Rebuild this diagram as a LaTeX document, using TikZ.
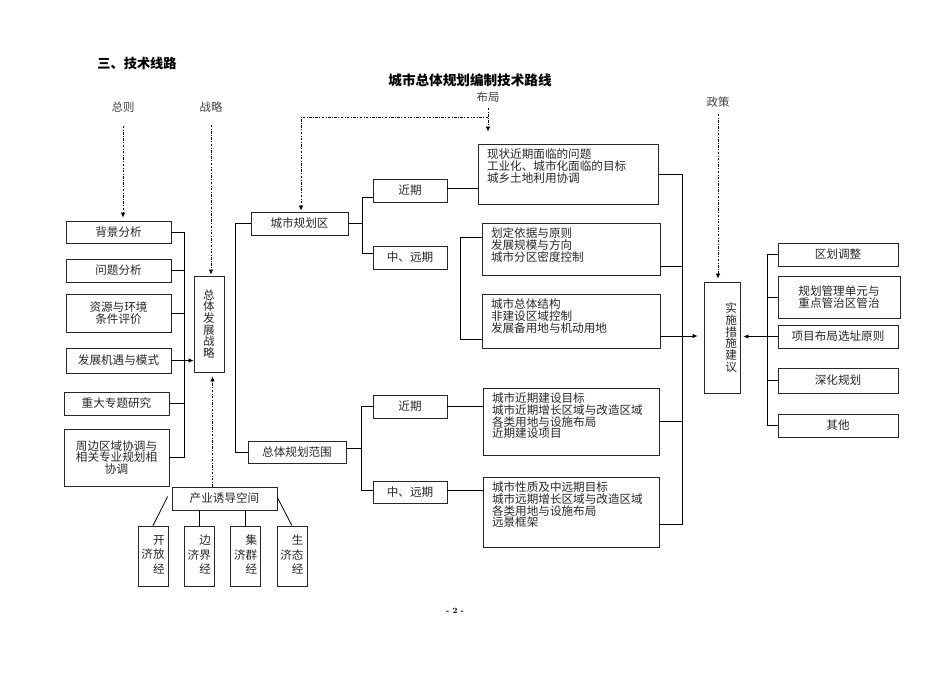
\documentclass[tikz,border=0pt]{standalone}
\usepackage{fontspec}
\usepackage{tikz}
\usetikzlibrary{positioning, arrows.meta}
\newfontfamily\cjk{Noto Sans CJK SC}
\newcommand{\txt}[3]{\parbox[c][#1][t]{#2}{\raggedright #3}}

\begin{document}
\begin{tikzpicture} [x=1pt, y=-1pt, on grid, >={Latex[length=5pt,width=4.5pt]},
  box/.style={draw=black!85, line width=0.8pt, rectangle, inner sep=2pt, align=center,
    font=\cjk\fontsize{11.6}{11.7}\selectfont, text=black!85},
  tbox/.style={draw=black!85, line width=0.8pt, rectangle, inner xsep=9pt, inner ysep=5pt,
    font=\cjk\fontsize{11.6}{11.7}\selectfont, text=black!85},
  vbox/.style={box, minimum width=30pt, minimum height=60pt, inner sep=0pt},
  lbl/.style={font=\cjk\fontsize{11.4}{12}\selectfont, text=black!75},
  dd/.style={line width=0.7pt, dash pattern=on 2.5pt off 1.5pt on 0.8pt off 1.5pt},
  ln/.style={line width=0.8pt}]

        \useasboundingbox (0,0) rectangle (950,672);

        % titles
        \node (bt) [font=\cjk\bfseries\fontsize{13.2}{15}\selectfont] at (137,63) {三、技术线路};
        \node (zbt) [font=\cjk\bfseries\fontsize{13.6}{15}\selectfont] at (470,80) {城市总体规划编制技术路线};
        \node (ym) [font=\bfseries\fontsize{8}{10}\selectfont] at (455,611) {- 2 -};

        \node (zongze) [lbl] at (123,107) {总则}; \node (zhanlue) [lbl] at (211,107) {战略};
        \node (buju) [lbl] at (488,97) {布局}; \node (zhengce) [lbl] at (718,102) {政策};

        % left column
        \node (bjfx) [box, minimum width=105pt, minimum height=22pt] at (118.5,232) {背景分析};
        \node (wtfx) [box, minimum width=105pt, minimum height=23pt] at (118.5,270.5) {问题分析};
        \node (zyhj) [box, minimum width=105pt, minimum height=38pt] at (118.5,313) {资源与环境\\条件评价};
        \node (fzjy) [box, minimum width=105pt, minimum height=25pt] at (118.5,360.5) {发展机遇与模式};
        \node (zdzt) [box, minimum width=105pt, minimum height=23pt] at (116.5,403.5) {重大专题研究};
        \node (zbqy) [box, minimum width=105pt, minimum height=57pt] at (116.5,457.5)
         {周边区域协调与\\相关专业规划相\\协调};
        \node (ztfz) [box, minimum width=30pt, minimum height=96pt] at (209,324) {总\\体\\发\\展\\战\\略};
        \node (cyyd) [box, minimum width=105pt, minimum height=23pt] at (224.5,498.5) {产业诱导空间};

        \node (kfjj) [vbox] at (153,556) {\begin{tabular}{@{}c@{}c@{}}&开\\[1.3pt]济&放\\[1.3pt]&经\end{tabular}};
        \node (bjjj) [vbox, right=46.3pt of kfjj] {\begin{tabular}{@{}c@{}c@{}}&边\\[1.3pt]济&界\\[1.3pt]&经\end{tabular}};
        \node (jqjj) [vbox, right=46.3pt of bjjj] {\begin{tabular}{@{}c@{}c@{}}&集\\[1.3pt]济&群\\[1.3pt]&经\end{tabular}};
        \node (stjj) [vbox, right=46.3pt of jqjj] {\begin{tabular}{@{}c@{}c@{}}&生\\[1.3pt]济&态\\[1.3pt]&经\end{tabular}};

        % middle
        \node (csgh) [box, minimum width=97pt, minimum height=23pt] at (299.5,223.5) {城市规划区};
        \node (ztgh) [box, minimum width=98pt, minimum height=22pt] at (297,452) {总体规划范围};
        \node (jq1) [box, minimum width=74pt, minimum height=23pt] at (410,190.5) {近期};
        \node (yq1) [box, minimum width=74pt, minimum height=23pt] at (410,257.5) {中、远期};
        \node (jq2) [box, minimum width=74pt, minimum height=23pt] at (410,406.5) {近期};
        \node (yq2) [box, minimum width=74pt, minimum height=22pt] at (410,492) {中、远期};

        \node (xzwt) [tbox] at (568,174) {\txt{50pt}{162pt}{现状近期面临的问题\\工业化、城市化面临的目标\\城乡土地利用协调}};
        \node (hdyj) [tbox] at (571,249) {\txt{42pt}{160pt}{划定依据与原则\\发展规模与方向\\城市分区密度控制}};
        \node (csjg) [tbox] at (571,321) {\txt{44pt}{160pt}{城市总体结构\\非建设区域控制\\发展备用地与机动用地}};
        \node (jqjs) [tbox] at (571,421.5) {\txt{57pt}{158pt}{城市近期建设目标\\城市近期增长区域与改造区域\\各类用地与设施布局\\近期建设项目}};
        \node (xzmb) [tbox] at (571,512) {\txt{60pt}{158pt}{城市性质及中远期目标\\城市远期增长区域与改造区域\\各类用地与设施布局\\远景框架}};

        % right
        \node (ssjy) [box, text width=30pt, align=right, inner xsep=3pt, minimum height=111pt] at (722,337.5)
         {实\\施\\措\\施\\建\\议};
        \node (qhtz) [box, minimum width=120pt, minimum height=23pt] at (838,254.5) {区划调整};
        \node (glzd) [box, minimum width=122pt, minimum height=42pt] at (839,297) {规划管理单元与\\重点管治区管治};
        \node (xmbj) [box, minimum width=120pt, minimum height=23pt] at (838,336.5) {项目布局选址原则};
        \node (shgh) [box, minimum width=120pt, minimum height=25pt] at (838,380.5) {深化规划};
        \node (qt) [box, minimum width=120pt, minimum height=23pt] at (838,425.5) {其他};

        \coordinate (lb) at (184,0); \coordinate (mb) at (362,0); \coordinate (mb2) at (361,0);
        \coordinate (rb) at (682,0); \coordinate (rb2) at (767,0); \coordinate (bz) at (301,117);

        % dashed inputs
        \draw[dd,->,shorten <=10pt,shorten >=3pt] (zongze.south) -- (zongze.south |- bjfx.north);
        \draw[dd,->,shorten <=9pt,shorten >=1pt] (zhanlue.south) -- (zhanlue.south |- ztfz.north);
        \draw[dd,->,shorten <=2pt] (buju.south) -- ([yshift=12pt]buju.south |- xzwt.north);
        \draw[dd,->] (buju.south |- bz) -- (bz) -- ([yshift=1pt]bz |- csgh.north);
        \draw[dd,->,shorten <=3pt,shorten >=3pt] (zhengce.south) -- (zhengce.south |- ssjy.north);
        \draw[dd,->,shorten >=4pt] ([xshift=-12pt]cyyd.north) -- ([xshift=-12pt]cyyd.north |- ztfz.south);

        % left bracket
        \draw[ln] (bjfx.east) -- (bjfx.east -| lb) -- (zbqy.east -| lb) -- (zbqy.east);
        \draw[ln] (wtfx.east) -- (wtfx.east -| lb) (zyhj.east) -- (zyhj.east -| lb)
         (zdzt.east) -- (zdzt.east -| lb);
        \draw[ln,->] (fzjy.east) -- (fzjy.east -| ztfz.west);

        % bottom
        \draw[ln] ([xshift=-4pt,yshift=2pt]cyyd.west) -- (kfjj.north);
        \draw[ln] (cyyd.south -| bjjj.north) -- (bjjj.north) (cyyd.south -| jqjj.north) -- (jqjj.north);
        \draw[ln] ([yshift=1pt]cyyd.east) -- (stjj.north);

        % middle
        \draw[ln] (csgh.west) -- ++(-15,0) |- (ztgh.west);
        \draw[ln] (csgh.east) -- (csgh.east -| mb);
        \draw[ln] ([yshift=-6.5pt]jq1.west) -| ([yshift=4.5pt]yq1.west -| mb) -- ([yshift=4.5pt]yq1.west);
        \draw[ln] ([yshift=2.5pt]jq1.east) -- ([yshift=2.5pt]jq1.east -| xzwt.west);
        \draw[ln] ([yshift=12pt]hdyj.west) -- ++(-21,0) |- ([yshift=-18pt]csjg.west);
        \draw[ln] ([yshift=4pt]ztgh.east) -- ([yshift=4pt]ztgh.east -| mb2);
        \draw[ln] (jq2.west) -| ([yshift=2pt]yq2.west -| mb2) -- ([yshift=2pt]yq2.west);
        \draw[ln] (jq2.east) -- (jq2.east -| jqjs.west) ([yshift=2pt]yq2.east) -- ([yshift=2pt]yq2.east -| xzmb.west);

        % right bracket
        \draw[ln] (xzwt.east) -- (xzwt.east -| rb) -- ([yshift=-12pt]xzmb.east -| rb) -- ([yshift=-12pt]xzmb.east);
        \draw[ln] ([yshift=-17pt]hdyj.east) -- ([yshift=-17pt]hdyj.east -| rb) (jqjs.east) -- (jqjs.east -| rb);
        \draw[ln,->,shorten >=6pt] ([yshift=-15pt]csjg.east) -- ([yshift=-15pt]csjg.east -| ssjy.west);

        \draw[ln] (qhtz.west) -- (qhtz.west -| rb2) -- (qt.west -| rb2) -- (qt.west);
        \draw[ln] (glzd.west) -- (glzd.west -| rb2) (shgh.west) -- (shgh.west -| rb2);
        \draw[ln,->,shorten >=3pt] (xmbj.west) -- (xmbj.west -| ssjy.east);

    \end{tikzpicture}
\end{document}
